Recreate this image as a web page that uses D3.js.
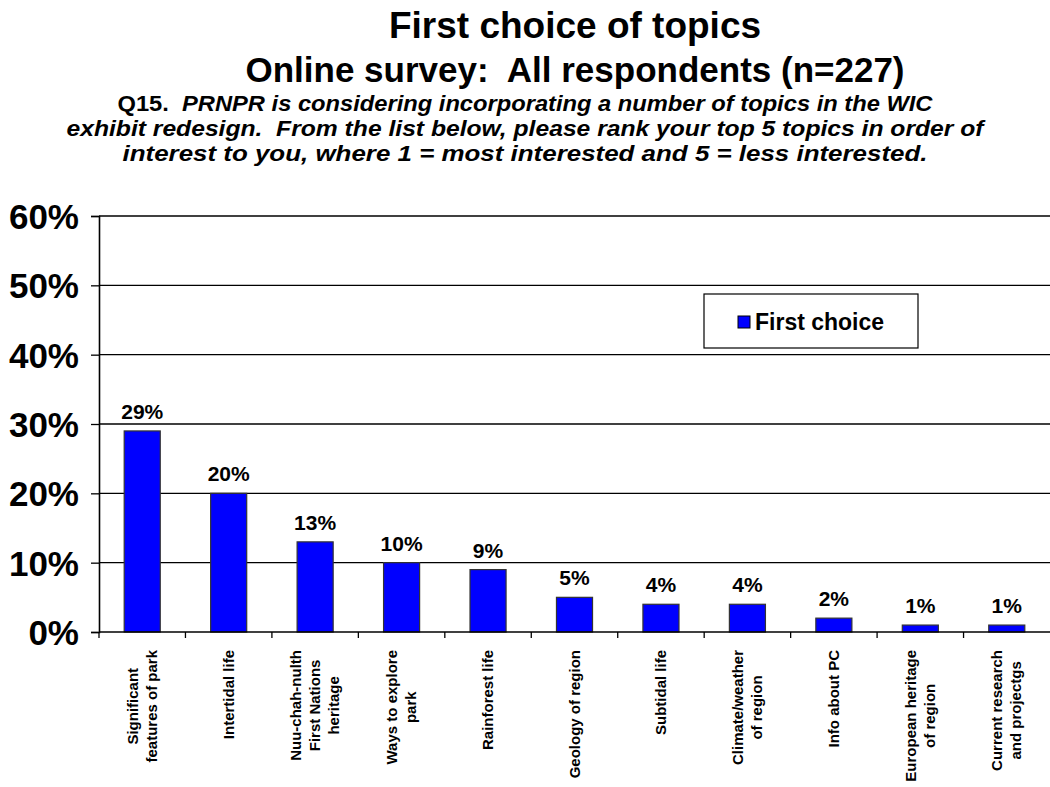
<!DOCTYPE html>
<html>
<head>
<meta charset="utf-8">
<script src="https://cdn.jsdelivr.net/npm/d3@7"></script>
<style>
  html, body { margin: 0; padding: 0; background: #fff; }
  svg { display: block; font-family: "Liberation Sans", Arial, sans-serif; }
</style>
</head>
<body>
<svg id="chart" width="1050" height="787"></svg>
<script>
// Topic categories (line breaks as shown under the axis)
const categories = [
  ["Significant", "features of park"],
  ["Intertidal life"],
  ["Nuu-chah-nulth", "First Nations", "heritage"],
  ["Ways to explore", "park"],
  ["Rainforest life"],
  ["Geology of region"],
  ["Subtidal life"],
  ["Climate/weather", "of region"],
  ["Info about PC"],
  ["European heritage", "of region"],
  ["Current research", "and projectgs"]
];
// Share of respondents choosing each topic first (%)
const firstChoice = [29, 20, 13, 10, 9, 5, 4, 4, 2, 1, 1];
const seriesName = "First choice";
const yTicks = [0, 10, 20, 30, 40, 50, 60];

const titleLines = ["First choice of topics", "Online survey:  All respondents (n=227)"];
const questionLines = [
  [["Q15.  ", false], ["PRNPR is considering incorporating a number of topics in the WIC", true]],
  [["exhibit redesign.  From the list below, please rank your top 5 topics in order of", true]],
  [["interest to you, where 1 = most interested and 5 = less interested.", true]]
];
// Set width of each question line (px)
const questionWidths = [815, 917, 805];

const svg = d3.select("#chart");
const plotLeft = 99, plotRight = 1050, plotTop = 216, plotBottom = 632;
const barColor = "#0000ff";

// Titles
svg.selectAll("text.title").data(titleLines).join("text")
  .attr("class", "title")
  .attr("x", 575).attr("y", (d, i) => 38 + i * 44)
  .attr("text-anchor", "middle")
  .attr("font-size", (d, i) => i === 0 ? 37 : 35).attr("font-weight", "bold")
  .style("white-space", "pre")
  .text(d => d);

// Question text, three centred lines
const q = svg.selectAll("text.q").data(questionLines).join("text")
  .attr("class", "q")
  .attr("x", 525).attr("y", (d, i) => 111 + i * 25)
  .attr("text-anchor", "middle")
  .attr("font-size", 22).attr("font-weight", "bold")
  .attr("textLength", (d, i) => questionWidths[i])
  .attr("lengthAdjust", "spacingAndGlyphs")
  .style("white-space", "pre");
q.selectAll("tspan").data(d => d).join("tspan")
  .attr("font-style", d => d[1] ? "italic" : "normal")
  .text(d => d[0]);

// Scales
const x = d3.scaleBand()
  .domain(d3.range(categories.length))
  .range([plotLeft, plotRight])
  .paddingInner(0.583).paddingOuter(0.2915);
const y = d3.scaleLinear().domain([0, 60]).range([plotBottom, plotTop]);

// Gridlines
svg.append("g").selectAll("line").data(yTicks.filter(t => t > 0)).join("line")
  .attr("x1", plotLeft).attr("x2", plotRight)
  .attr("y1", d => y(d)).attr("y2", d => y(d))
  .attr("stroke", "#000").attr("stroke-width", 1.3);

// Y axis
const yAxis = svg.append("g")
  .attr("transform", `translate(${plotLeft},0)`)
  .call(d3.axisLeft(y).tickValues(yTicks).tickFormat(d => d + "%").tickSize(8).tickPadding(12));
yAxis.select(".domain").attr("stroke", "#000").attr("stroke-width", 1.6);
yAxis.selectAll(".tick line").attr("stroke", "#000").attr("stroke-width", 1.3);
yAxis.selectAll(".tick text")
  .attr("font-size", 35).attr("font-weight", "bold").attr("fill", "#000")
  .attr("font-family", "'Liberation Sans', Arial, sans-serif")
  .attr("dy", "0.36em");

// Bars
svg.append("g").selectAll("rect").data(firstChoice).join("rect")
  .attr("x", (d, i) => x(i))
  .attr("width", x.bandwidth())
  .attr("y", d => y(d))
  .attr("height", d => y(0) - y(d))
  .attr("fill", barColor)
  .attr("stroke", "#333").attr("stroke-width", 1.2);

// X axis with ticks at category boundaries
const step = x.step();
svg.append("line")
  .attr("x1", plotLeft).attr("x2", plotRight).attr("y1", plotBottom).attr("y2", plotBottom)
  .attr("stroke", "#000").attr("stroke-width", 1.6);
svg.append("g").selectAll("line").data(d3.range(categories.length)).join("line")
  .attr("x1", i => x(i) - x.paddingInner() * step / 2)
  .attr("x2", i => x(i) - x.paddingInner() * step / 2)
  .attr("y1", plotBottom).attr("y2", plotBottom + 6)
  .attr("stroke", "#000").attr("stroke-width", 1.3);

// Value labels
svg.append("g").selectAll("text").data(firstChoice).join("text")
  .attr("x", (d, i) => x(i) + x.bandwidth() / 2)
  .attr("y", d => y(d) - 12)
  .attr("text-anchor", "middle")
  .attr("font-size", 21).attr("font-weight", "bold")
  .text(d => d + "%");

// Rotated category labels
const lineGap = 19;
const labelGroups = svg.append("g").selectAll("g").data(categories).join("g");
labelGroups.each(function (lines, i) {
  const g = d3.select(this);
  const texts = g.selectAll("text").data(lines).join("text")
    .attr("text-anchor", "middle")
    .attr("font-size", 15).attr("font-weight", "bold")
    .style("white-space", "pre")
    .attr("y", (d, j) => (j - (lines.length - 1) / 2) * lineGap + 5)
    .text(d => d);
  let maxLen = 0;
  texts.each(function () { maxLen = Math.max(maxLen, this.getComputedTextLength()); });
  const cx = x(i) + x.bandwidth() / 2;
  g.attr("transform", `translate(${cx},${650 + maxLen / 2}) rotate(-90)`);
});

// Legend
const lg = svg.append("g");
lg.append("rect").attr("x", 704).attr("y", 294).attr("width", 214).attr("height", 54)
  .attr("fill", "#fff").attr("stroke", "#000").attr("stroke-width", 1.2);
lg.append("rect").attr("x", 738).attr("y", 316).attr("width", 12).attr("height", 12)
  .attr("fill", barColor).attr("stroke", "#000").attr("stroke-width", 1);
lg.append("text").attr("x", 755).attr("y", 330)
  .attr("font-size", 23).attr("font-weight", "bold")
  .text(seriesName);
</script>
</body>
</html>
